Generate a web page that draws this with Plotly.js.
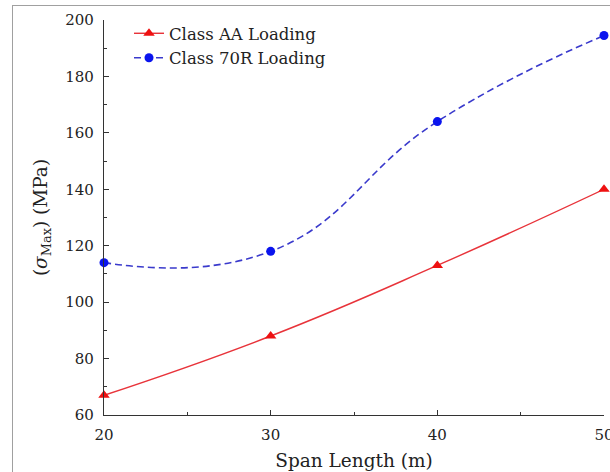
<!DOCTYPE html>
<html>
<head>
<meta charset="utf-8">
<script src="https://cdn.plot.ly/plotly-3.0.1.min.js"></script>
<style>
  html, body { margin: 0; padding: 0; background: #ffffff; }
  #frame { position: absolute; left: 12px; top: 5px; width: 700px; height: 600px;
           border: 1.5px solid #a0a0a0; box-sizing: border-box; }
  #chart { position: absolute; left: 0; top: 0; width: 610px; height: 472px; }
</style>
</head>
<body>
<div id="frame"></div>
<div id="chart"></div>
<script>
// Data
var spanLength = [20, 30, 40, 50];
var classAA = [67, 88, 113, 140];
var class70R = [114, 118, 164, 194.5];
var xTickVals = [20, 30, 40, 50];
var yTickVals = [60, 80, 100, 120, 140, 160, 180, 200];

var fontFam = 'DejaVu Serif, Liberation Serif, serif';

var traces = [
  {
    x: spanLength, y: classAA, name: 'Class AA Loading',
    type: 'scatter', mode: 'lines+markers',
    line: { color: '#e8333a', width: 1.4, shape: 'spline', smoothing: 1.3 },
    marker: { symbol: 'triangle-up', size: 10, color: '#ee1111' },
    cliponaxis: false
  },
  {
    x: spanLength, y: class70R, name: 'Class 70R Loading',
    type: 'scatter', mode: 'lines+markers',
    line: { color: '#3a3acc', width: 1.6, dash: '7px,4px', shape: 'spline', smoothing: 1.3 },
    marker: { symbol: 'circle', size: 9, color: '#0a14ee' },
    cliponaxis: false
  }
];

var axisCommon = {
  showgrid: false, zeroline: false,
  showline: true, linecolor: '#333333', linewidth: 1.2,
  ticks: 'inside', ticklen: 5, tickwidth: 1, tickcolor: '#333333',
  tickfont: { family: fontFam, size: 15, color: '#222222' }
};

var layout = {
  width: 610, height: 472,
  margin: { l: 104, r: 6, t: 20, b: 57 },
  paper_bgcolor: 'rgba(0,0,0,0)',
  plot_bgcolor: 'rgba(0,0,0,0)',
  showlegend: true,
  legend: {
    x: 0.05, y: 1.01, xanchor: 'left', yanchor: 'top',
    bgcolor: 'rgba(255,255,255,0)', borderwidth: 0,
    font: { family: fontFam, size: 16.5, color: '#222222' },
    tracegroupgap: 0
  },
  xaxis: Object.assign({}, axisCommon, {
    range: [20, 50], tickvals: xTickVals, ticktext: xTickVals.map(String),
    minor: { ticks: 'inside', ticklen: 3, dtick: 5, tick0: 20, tickcolor: '#333333' },
    ticklabelstandoff: 6, ticklabeloverflow: 'allow',
    title: { text: 'Span Length (m)', font: { family: fontFam, size: 18.5, color: '#222222' }, standoff: 10 }
  }),
  yaxis: Object.assign({}, axisCommon, {
    range: [60, 200], tickvals: yTickVals, ticktext: yTickVals.map(String),
    minor: { ticks: 'inside', ticklen: 3, dtick: 10, tick0: 60, tickcolor: '#333333' },
    ticklabelstandoff: 6, ticklabeloverflow: 'allow',
    title: { text: '(<i>σ</i><sub>Max</sub>) (MPa)', font: { family: fontFam, size: 18.5, color: '#222222' }, standoff: 12 }
  }),
  xaxis2: Object.assign({}, axisCommon, {
    overlaying: 'x', side: 'top', range: [20, 50], tickvals: xTickVals,
    showticklabels: false,
    minor: { ticks: 'inside', ticklen: 3, dtick: 5, tick0: 20, tickcolor: '#333333' }
  }),
  yaxis2: Object.assign({}, axisCommon, {
    overlaying: 'y', side: 'right', range: [60, 200], tickvals: yTickVals,
    showticklabels: false,
    minor: { ticks: 'inside', ticklen: 3, dtick: 10, tick0: 60, tickcolor: '#333333' }
  })
};

Plotly.newPlot('chart', traces, layout, { displayModeBar: false, staticPlot: true });
</script>
</body>
</html>
